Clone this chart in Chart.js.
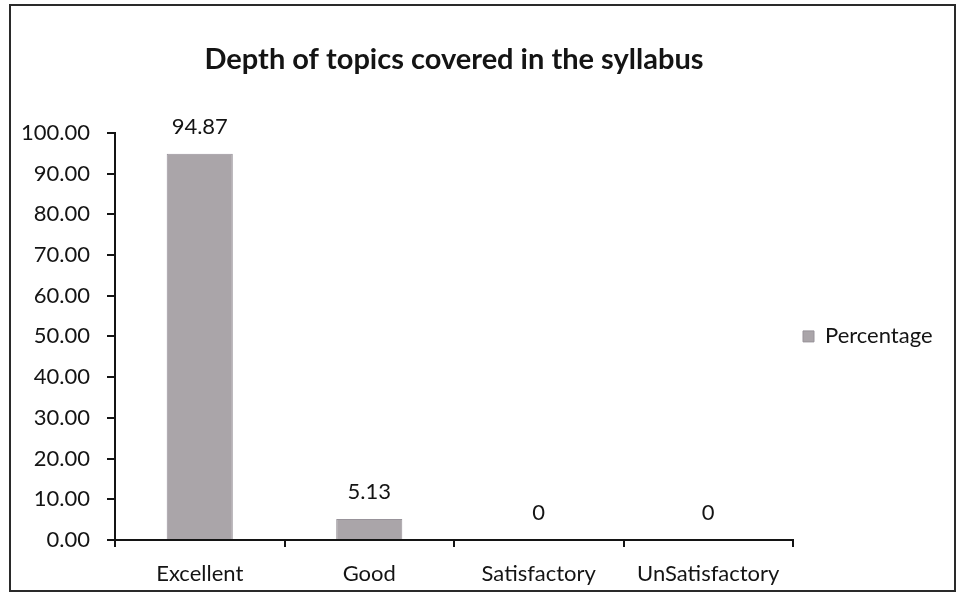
<!DOCTYPE html>
<html>
<head>
<meta charset="utf-8">
<script src="https://cdn.jsdelivr.net/npm/chart.js@4"></script>
<style>
  html, body { margin: 0; padding: 0; background: #fff; }
  #wrap { width: 963px; height: 596px; position: relative; }
</style>
</head>
<body>
<div id="wrap"><canvas id="chart"></canvas></div>
<script>
// Data
const categories = ['Excellent', 'Good', 'Satisfactory', 'UnSatisfactory'];
const percentages = [94.87, 5.13, 0, 0];
const seriesName = 'Percentage';
const yTicks = [0, 10, 20, 30, 40, 50, 60, 70, 80, 90, 100];

const FONT = 'Lato';
const INK = '#141414';

// work out how wide the legend will be so the plot ends where it should
const mctx = document.createElement('canvas').getContext('2d');
mctx.font = '22px ' + FONT;
const legendW = 10 + 11 + 11 + mctx.measureText(seriesName).width + 10;
const padRight = Math.max(0, 963 - 793 - legendW);

// Frame around the whole chart
const framePlugin = {
  id: 'frame',
  afterDraw(chart) {
    const ctx = chart.ctx;
    ctx.save();
    ctx.strokeStyle = '#2a2a2a';
    ctx.lineWidth = 2;
    ctx.strokeRect(10, 5, 945, 586);
    ctx.restore();
  }
};

// Value labels above bars
const valueLabels = {
  id: 'valueLabels',
  afterDatasetsDraw(chart) {
    const ctx = chart.ctx;
    ctx.save();
    ctx.font = '22px ' + FONT;
    ctx.fillStyle = INK;
    ctx.textAlign = 'center';
    ctx.textBaseline = 'middle';
    chart.getDatasetMeta(0).data.forEach((bar, i) => {
      ctx.fillText(String(percentages[i]), bar.x, bar.y - 27);
    });
    ctx.restore();
  }
};

new Chart(document.getElementById('chart'), {
  type: 'bar',
  data: {
    labels: categories,
    datasets: [{
      label: seriesName,
      data: percentages,
      backgroundColor: '#aaa5a9',
      borderColor: '#98939a',
      borderWidth: 1,
      barPercentage: 0.39,
      categoryPercentage: 1,
    }]
  },
  options: {
    responsive: true,
    maintainAspectRatio: false,
    animation: false,
    layout: { padding: { top: 0, left: 0, right: padRight, bottom: 0 } },
    plugins: {
      title: {
        display: true,
        fullSize: false,
        text: 'Depth of topics covered in the syllabus',
        color: INK,
        font: { family: FONT, size: 29, weight: 'bold' },
        padding: { top: 42, bottom: 56 }
      },
      legend: {
        position: 'right',
        fullSize: false,
        labels: {
          color: INK,
          boxWidth: 11,
          boxHeight: 11,
          padding: 10,
          font: { family: FONT, size: 22 }
        }
      },
      tooltip: { enabled: false }
    },
    scales: {
      x: {
        grid: { drawOnChartArea: false, drawTicks: true, tickLength: 7, color: INK, lineWidth: 2 },
        border: { color: INK, width: 2 },
        ticks: { color: INK, padding: 14, font: { family: FONT, size: 22 }, maxRotation: 0 },
        afterFit(scale) { scale.height = 56; }
      },
      y: {
        min: 0,
        max: 100,
        afterBuildTicks(scale) { scale.ticks = yTicks.map(v => ({ value: v })); },
        grid: { drawOnChartArea: false, drawTicks: true, tickLength: 8, color: INK, lineWidth: 2 },
        border: { color: INK, width: 2 },
        ticks: {
          color: INK,
          padding: 17,
          font: { family: FONT, size: 22 },
          callback: v => Number(v).toFixed(2)
        },
        afterFit(scale) { scale.width = 115; }
      }
    }
  },
  plugins: [framePlugin, valueLabels]
});
</script>
</body>
</html>
